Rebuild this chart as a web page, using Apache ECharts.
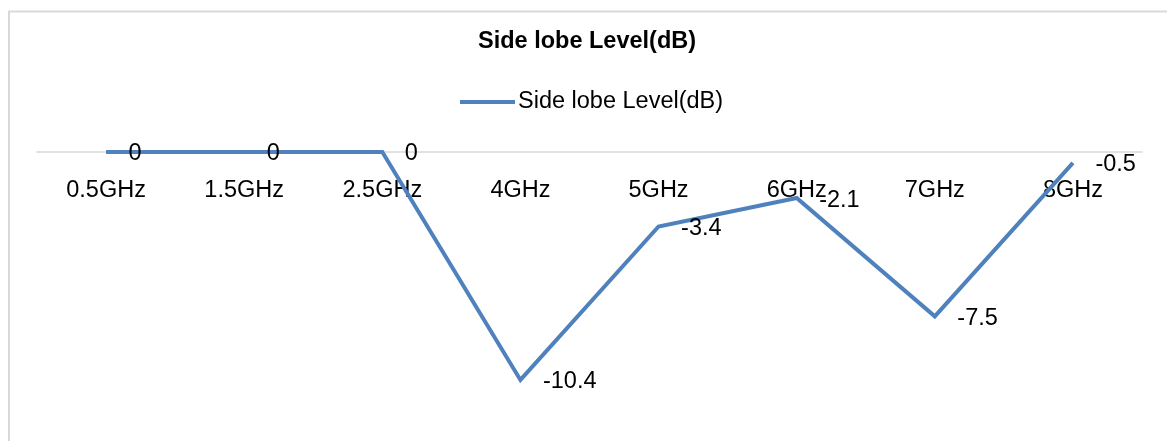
<!DOCTYPE html>
<html>
<head>
<meta charset="utf-8">
<script src="https://cdn.jsdelivr.net/npm/echarts@6/dist/echarts.min.js"></script>
<style>
  html, body { margin: 0; padding: 0; background: #ffffff; }
  #chart { width: 1167px; height: 441px; }
</style>
</head>
<body>
<div id="chart"></div>
<script>
// Frequency bands and measured side lobe level (dB)
const categories = ['0.5GHz', '1.5GHz', '2.5GHz', '4GHz', '5GHz', '6GHz', '7GHz', '8GHz'];
const sideLobeLevel = [0, 0, 0, -10.4, -3.4, -2.1, -7.5, -0.5];
const seriesName = 'Side lobe Level(dB)';

const FONT = '"Liberation Sans", Arial, sans-serif';
const BLUE = '#4f81bd';

const chart = echarts.init(document.getElementById('chart'), null, { renderer: 'canvas' });

chart.setOption({
  animation: false,
  backgroundColor: '#ffffff',
  graphic: [{
    type: 'rect',
    silent: true,
    z: 0,
    shape: { x: 9, y: 11.5, width: 1200, height: 500 },
    style: { fill: 'none', stroke: '#d9d9d9', lineWidth: 2 }
  }],
  title: {
    text: seriesName,
    left: 478,
    top: 30,
    padding: 0,
    textStyle: { fontFamily: FONT, fontSize: 23.5, fontWeight: 'bold', color: '#000000' }
  },
  legend: {
    data: [{ name: seriesName, itemStyle: { color: BLUE } }],
    left: 460,
    top: 90,
    padding: 0,
    icon: 'rect',
    itemWidth: 55,
    itemHeight: 4,
    textStyle: { fontFamily: FONT, fontSize: 23.5, color: '#000000', padding: [0, 0, 0, -2] }
  },
  grid: {
    left: 37, width: 1105, top: 152, height: 263,
    containLabel: false,
    outerBoundsMode: 'none'
  },
  // The zero line sits at the top of the plot; category names hang just below it
  xAxis: {
    type: 'category',
    data: categories,
    position: 'top',
    boundaryGap: true,
    axisLine: { show: true, onZero: false, lineStyle: { color: '#d9d9d9', width: 1.5 } },
    axisTick: { show: false },
    axisLabel: { inside: true, fontFamily: FONT, fontSize: 23.5, color: '#000000', margin: 27, interval: 0 },
    splitLine: { show: false }
  },
  yAxis: {
    type: 'value',
    min: -12,
    max: 0,
    interval: 2,
    show: false
  },
  series: [{
    name: seriesName,
    type: 'line',
    data: sideLobeLevel,
    symbol: 'circle',
    symbolSize: 1,
    showSymbol: true,
    clip: false,
    z: 3,
    lineStyle: { color: BLUE, width: 4, cap: 'butt', join: 'miter' },
    itemStyle: { color: 'rgba(0,0,0,0)', borderWidth: 0 },
    label: {
      show: true,
      position: 'right',
      distance: 22,
      offset: [0, 2],
      fontFamily: FONT,
      fontSize: 23.5,
      color: '#000000'
    }
  }]
});
</script>
</body>
</html>
